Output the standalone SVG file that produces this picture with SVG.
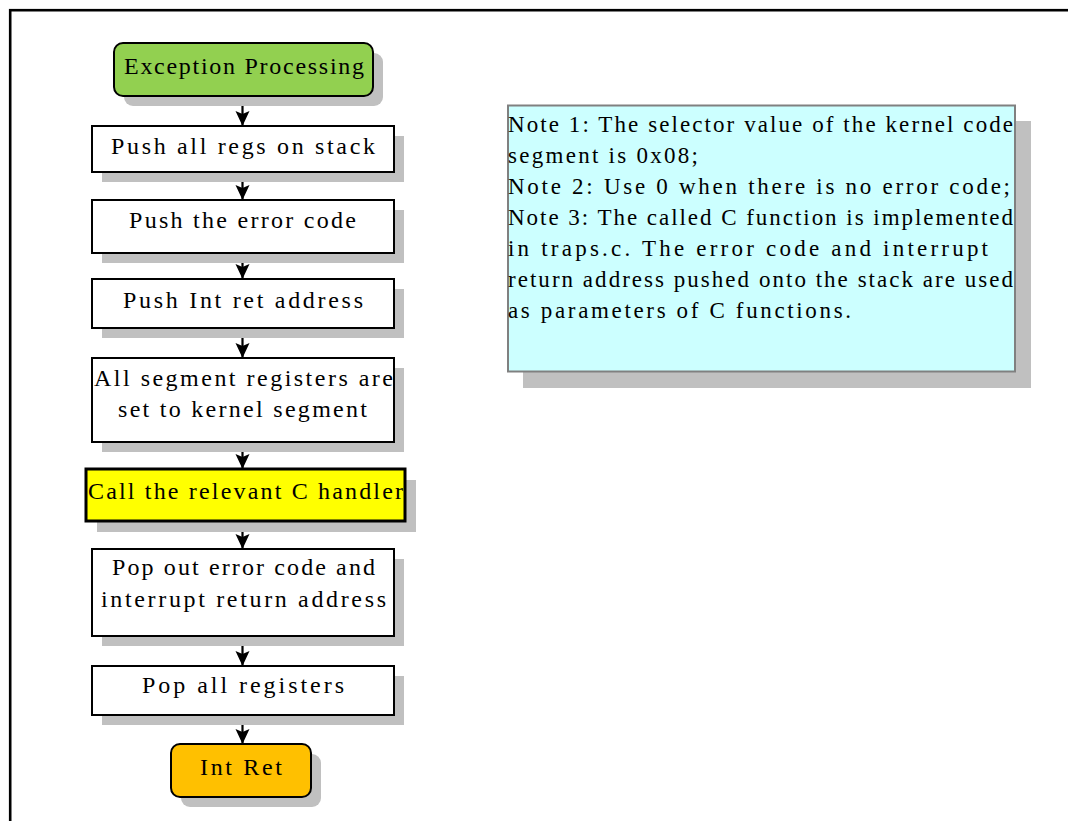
<svg xmlns="http://www.w3.org/2000/svg" width="1068" height="821" viewBox="0 0 1068 821">
<defs>
<style>
.sh{fill:#C0C0C0;stroke:none}
.bx{fill:#FFFFFF;stroke:#000;stroke-width:2}
.t{font-family:"Liberation Serif","Noto Serif",serif;font-size:24px;fill:#000}
.n{font-family:"Liberation Serif","Noto Serif",serif;font-size:23px;fill:#000}
.cn{stroke:#000;stroke-width:2.2;fill:none}
</style>
<marker id="ah" markerUnits="userSpaceOnUse" markerWidth="15" markerHeight="15" refX="15" refY="7.5" orient="auto" viewBox="0 0 15 15" overflow="visible">
<path d="M15,7.5 L0,0.5 L3,7.5 L0,14.5 Z" fill="#000"/>
</marker>
</defs>
<rect x="0" y="0" width="1068" height="821" fill="#FFFFFF"/>
<rect x="10.2" y="10.2" width="1100" height="900" fill="none" stroke="#000" stroke-width="2.6"/>

<g id="connectors">
<line class="cn" x1="242.5" y1="96" x2="242.5" y2="126" marker-end="url(#ah)"/>
<line class="cn" x1="242.5" y1="172" x2="242.5" y2="200" marker-end="url(#ah)"/>
<line class="cn" x1="242.5" y1="253" x2="242.5" y2="279" marker-end="url(#ah)"/>
<line class="cn" x1="242.5" y1="328" x2="242.5" y2="358" marker-end="url(#ah)"/>
<line class="cn" x1="242.5" y1="442" x2="242.5" y2="469" marker-end="url(#ah)"/>
<line class="cn" x1="242.5" y1="521" x2="242.5" y2="549" marker-end="url(#ah)"/>
<line class="cn" x1="242.5" y1="636" x2="242.5" y2="666" marker-end="url(#ah)"/>
<line class="cn" x1="242.5" y1="715" x2="242.5" y2="744" marker-end="url(#ah)"/>
</g>

<g id="n1">
<rect class="sh" x="124" y="53" width="259" height="53" rx="9"/>
<rect x="114" y="43" width="259" height="53" rx="9" fill="#92D050" stroke="#000" stroke-width="2"/>
<text class="t" x="124" y="74" textLength="240" lengthAdjust="spacing">Exception Processing</text>
</g>

<g id="n2">
<rect class="sh" x="102" y="136" width="302" height="46"/>
<rect class="bx" x="92" y="126" width="302" height="46"/>
<text class="t" x="111" y="154" textLength="264" lengthAdjust="spacing">Push all regs on stack</text>
</g>

<g id="n3">
<rect class="sh" x="102" y="210" width="302" height="53"/>
<rect class="bx" x="92" y="200" width="302" height="53"/>
<text class="t" x="129" y="228" textLength="227" lengthAdjust="spacing">Push the error code</text>
</g>

<g id="n4">
<rect class="sh" x="102" y="289" width="302" height="49"/>
<rect class="bx" x="92" y="279" width="302" height="49"/>
<text class="t" x="123" y="308" textLength="240" lengthAdjust="spacing">Push Int ret address</text>
</g>

<g id="n5">
<rect class="sh" x="102" y="368" width="302" height="84"/>
<rect class="bx" x="92" y="358" width="302" height="84"/>
<text class="t" x="94" y="386" textLength="299" lengthAdjust="spacing">All segment registers are</text>
<text class="t" x="118" y="417" textLength="249" lengthAdjust="spacing">set to kernel segment</text>
</g>

<g id="n6">
<rect class="sh" x="97" y="480" width="319" height="52"/>
<rect x="86" y="469" width="319" height="52" fill="#FFFF00" stroke="#000" stroke-width="3"/>
<text class="t" x="88" y="499" textLength="315" lengthAdjust="spacing">Call the relevant C handler</text>
</g>

<g id="n7">
<rect class="sh" x="102" y="559" width="302" height="87"/>
<rect class="bx" x="92" y="549" width="302" height="87"/>
<text class="t" x="112" y="575" textLength="263" lengthAdjust="spacing">Pop out error code and</text>
<text class="t" x="101" y="607" textLength="285" lengthAdjust="spacing">interrupt return address</text>
</g>

<g id="n8">
<rect class="sh" x="102" y="676" width="302" height="49"/>
<rect class="bx" x="92" y="666" width="302" height="49"/>
<text class="t" x="142" y="693" textLength="202" lengthAdjust="spacing">Pop all registers</text>
</g>

<g id="n9">
<rect class="sh" x="181" y="754" width="140" height="53" rx="9"/>
<rect x="171" y="744" width="140" height="53" rx="9" fill="#FFC000" stroke="#000" stroke-width="2"/>
<text class="t" x="200" y="775" textLength="82" lengthAdjust="spacing">Int Ret</text>
</g>

<g id="note">
<rect class="sh" x="523" y="121" width="508" height="267"/>
<rect x="508" y="105.5" width="507" height="266" fill="#CCFFFF" stroke="#808080" stroke-width="2"/>
<text class="n" x="508" y="132" textLength="505" lengthAdjust="spacing">Note 1: The selector value of the kernel code</text>
<text class="n" x="508" y="163" textLength="190" lengthAdjust="spacing">segment is 0x08;</text>
<text class="n" x="508" y="194" textLength="502" lengthAdjust="spacing">Note 2: Use 0 when there is no error code;</text>
<text class="n" x="508" y="225" textLength="505" lengthAdjust="spacing">Note 3: The called C function is implemented</text>
<text class="n" x="508" y="256" textLength="480" lengthAdjust="spacing">in traps.c.  The error code and interrupt</text>
<text class="n" x="508" y="287" textLength="505" lengthAdjust="spacing">return address pushed onto the stack are used</text>
<text class="n" x="508" y="318" textLength="343" lengthAdjust="spacing">as parameters of C functions.</text>
</g>
</svg>
